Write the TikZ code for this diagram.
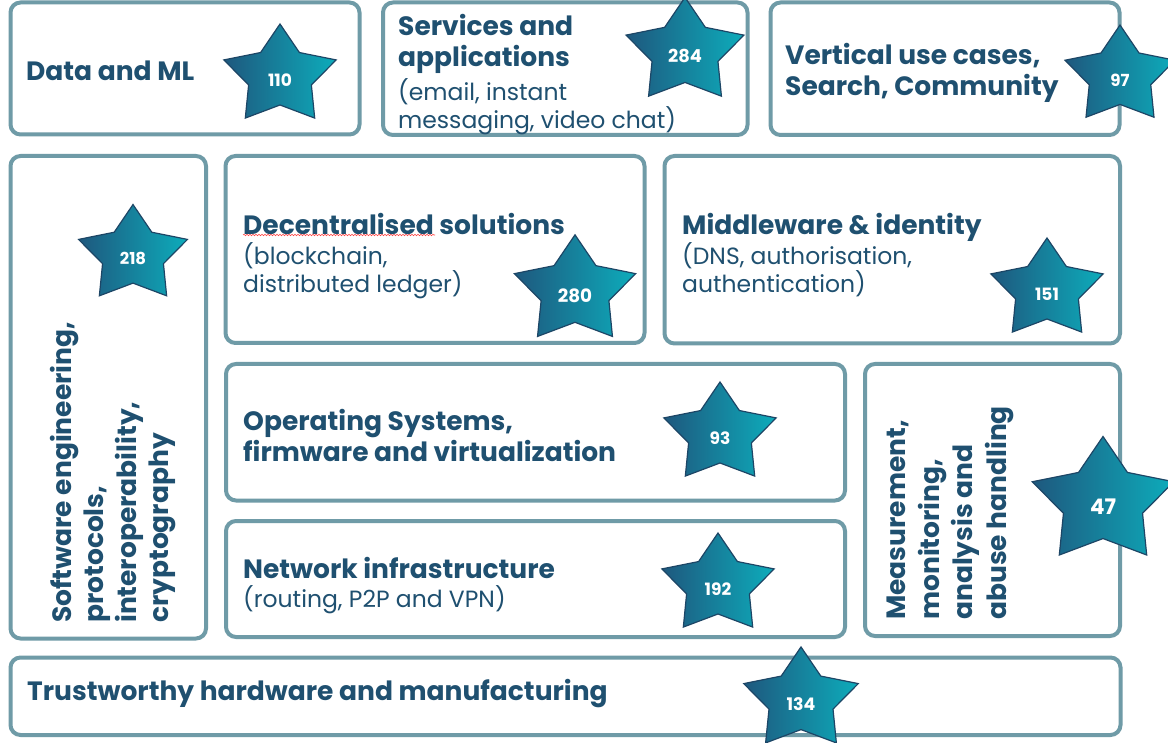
\documentclass[tikz,border=0pt]{standalone}
\usepackage{fontspec}
\setmainfont{Poppins}
\usetikzlibrary{decorations.pathmorphing}

\definecolor{tileline}{RGB}{111,155,167}
\definecolor{inktext}{RGB}{31,80,112}
\definecolor{stardark}{RGB}{30,88,126}
\definecolor{starlight}{RGB}{13,172,187}
\definecolor{starrim}{RGB}{29,70,102}

\tikzset{
	tilebox/.style={draw=tileline, line width=4pt, rounded corners=10pt, fill=white},
	headtext/.style={inner sep=0pt, anchor=north west, align=left, text=inktext, font=\fontsize{26.5}{31}\selectfont\bfseries},
	subtext/.style={inner sep=0pt, anchor=north west, align=left, text=inktext, font=\fontsize{23.5}{28.5}\selectfont},
	starfill/.style={draw=starrim, line width=1.2pt, line join=miter, left color=stardark, right color=starlight},
	starnum/.style={inner sep=0pt, text=white, font=\fontsize{17}{17}\selectfont\bfseries}
}

% Star with its count: name, centre, size, count
\newcommand{\starcount}[4]{%
	\begin{scope}[shift={(#2)}, scale=#3]
		\path[starfill] (90:59 and 52) -- (126:33 and 29) -- (162:59 and 52) -- (198:33 and 29)
			-- (234:59 and 52) -- (270:33 and 29) -- (306:59 and 52) -- (342:33 and 29)
			-- (18:59 and 52) -- (54:33 and 29) -- cycle;
		\node[starnum, scale=#3] (#1) at (0,-4) {#4};
	\end{scope}
}

\begin{document}
\begin{tikzpicture}[x=1pt, y=1pt]
	\useasboundingbox (0,0) rectangle (1168,-743);
	\clip (0,0) rectangle (1168,-743);
	\fill[white] (0,0) rectangle (1168,-743);
	% Define the corners of the tiles
	\coordinate (dataNW) at (10.5,-2.5);   \coordinate (dataSE) at (359.5,-134.5);
	\coordinate (svcNW) at (383,-2.5);     \coordinate (svcSE) at (747.5,-135);
	\coordinate (vertNW) at (770.5,-2.5);  \coordinate (vertSE) at (1119.5,-135);
	\coordinate (softNW) at (10.5,-156);   \coordinate (softSE) at (206,-638.5);
	\coordinate (decNW) at (225.5,-156);   \coordinate (decSE) at (644.5,-343);
	\coordinate (midNW) at (664.5,-156);   \coordinate (midSE) at (1120,-343.5);
	\coordinate (osNW) at (226,-364);      \coordinate (osSE) at (845,-500.5);
	\coordinate (netNW) at (226,-521);     \coordinate (netSE) at (845,-637);
	\coordinate (measNW) at (865,-364);    \coordinate (measSE) at (1120,-636);
	\coordinate (trustNW) at (10.5,-657.5); \coordinate (trustSE) at (1120.5,-735);
	% Draw the tiles
	\draw[tilebox] (dataNW) rectangle (dataSE);
	\draw[tilebox] (svcNW) rectangle (svcSE);
	\draw[tilebox] (vertNW) rectangle (vertSE);
	\draw[tilebox] (softNW) rectangle (softSE);
	\draw[tilebox] (decNW) rectangle (decSE);
	\draw[tilebox] (midNW) rectangle (midSE);
	\draw[tilebox] (osNW) rectangle (osSE);
	\draw[tilebox] (netNW) rectangle (netSE);
	\draw[tilebox] (measNW) rectangle (measSE);
	\draw[tilebox] (trustNW) rectangle (trustSE);
	% Write the texts
	\node[headtext] (dataTxt) at (26,-61) {Data and ML};
	\node[headtext] (svcTxt) at (398,-14) {Services and\\applications};
	\node[subtext] (svcSub) at (398,-78) {(email, instant\\messaging, video chat)};
	\node[headtext] (vertTxt) at (785,-43) {Vertical use cases,\\Search, Community};
	\node[headtext] (decTxt) at (243,-213) {Decentralised solutions};
	\node[subtext, font=\fontsize{23.5}{28}\selectfont] (decSub) at (243,-242) {(blockchain,\\distributed ledger)};
	\node[headtext] (midTxt) at (682,-213) {Middleware \& identity};
	\node[subtext, font=\fontsize{23.5}{28}\selectfont] (midSub) at (682,-242) {(DNS, authorisation,\\authentication)};
	\node[headtext] (osTxt) at (243,-409) {Operating Systems,\\firmware and virtualization};
	\node[headtext] (netTxt) at (243,-557) {Network infrastructure};
	\node[subtext] (netSub) at (243,-585) {(routing, P2P and VPN)};
	\node[headtext] (trustTxt) at (27,-679) {Trustworthy hardware and manufacturing};
	\node[headtext, rotate=90, font=\fontsize{26.5}{32.5}\selectfont\bfseries] (softTxt) at (50,-623)
		{Software engineering,\\protocols,\\interoperability,\\cryptography};
	\node[headtext, rotate=90, font=\fontsize{26.5}{33.5}\selectfont\bfseries] (measTxt) at (887,-620)
		{Measurement,\\monitoring,\\analysis and\\abuse handling};
	% Spell-check squiggle
	\draw[red!75, line width=0.6pt, decorate, decoration={snake, amplitude=0.7pt, segment length=3pt}]
		(243,-235) -- (435,-235);
	% Add the stars
	\starcount{dataStar}{280,-76}{1}{110}
	\starcount{svcStar}{685,-52}{1.05}{284}
	\starcount{vertStar}{1120,-76}{0.98}{97}
	\starcount{softStar}{133,-255}{0.97}{218}
	\starcount{decStar}{575,-291}{1.08}{280}
	\starcount{midStar}{1047,-290}{1}{151}
	\starcount{osStar}{720,-434}{1}{93}
	\starcount{netStar}{718,-585}{1}{192}
	\starcount{measStar}{1103,-502}{1.26}{47}
	\starcount{trustStar}{801,-700}{1.02}{134}
\end{tikzpicture}
\end{document}
